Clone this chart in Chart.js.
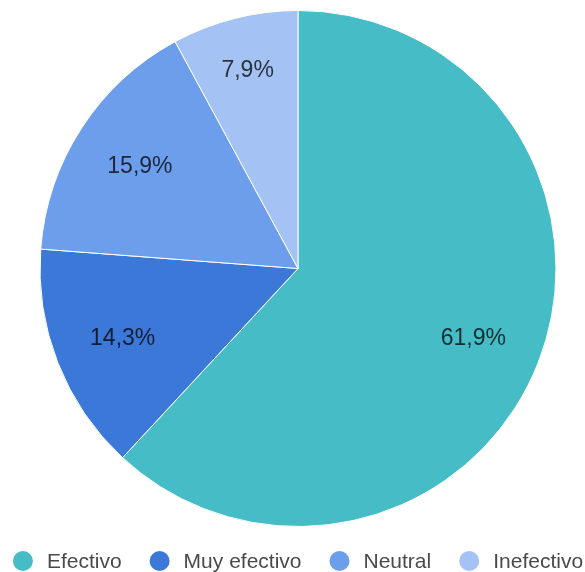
<!DOCTYPE html>
<html>
<head>
<meta charset="utf-8">
<script src="https://cdn.jsdelivr.net/npm/chart.js@4/dist/chart.umd.min.js"></script>
<style>
  html, body { margin: 0; padding: 0; background: #fff; }
  #wrap { width: 585px; height: 572px; }
</style>
</head>
<body>
<div id="wrap"><canvas id="chart"></canvas></div>
<script>
const categories = ["Efectivo", "Muy efectivo", "Neutral", "Inefectivo"];
const shares = [61.9, 14.3, 15.9, 7.9];
const sliceColors = ["#46bdc6", "#3c78d8", "#6d9eeb", "#a4c2f4"];

const FONT = "'Liberation Sans', Arial, sans-serif";

// percentage inside each slice
const sliceLabels = {
  id: "sliceLabels",
  afterDatasetsDraw(chart) {
    const ctx = chart.ctx;
    const meta = chart.getDatasetMeta(0);
    ctx.save();
    ctx.font = "23px " + FONT;
    ctx.fillStyle = "rgba(0,0,0,0.75)";
    ctx.textAlign = "center";
    ctx.textBaseline = "middle";
    meta.data.forEach((arc, i) => {
      const span = arc.endAngle - arc.startAngle;
      const mid = arc.startAngle + span / 2;
      // narrow slices get their label pushed further out
      const r = arc.outerRadius * (span < 0.7 ? 0.795 : 0.73);
      ctx.fillText(shares[i].toFixed(1).replace(".", ",") + "%",
        arc.x + Math.cos(mid) * r, arc.y + Math.sin(mid) * r + 1);
    });
    ctx.restore();
  }
};

// legend row under the pie (built-in one wraps at this spacing)
const bottomLegend = {
  id: "bottomLegend",
  afterDraw(chart) {
    const ctx = chart.ctx;
    const meta = chart.getDatasetMeta(0);
    const dot = 10, textGap = 14, itemGap = 28;
    const y = 561;
    ctx.save();
    ctx.font = "21px " + FONT;
    const widths = categories.map(c => ctx.measureText(c).width);
    const total = widths.reduce((s, w) => s + 2 * dot + textGap + w, 0) + itemGap * (categories.length - 1);
    let x = meta.data[0].x - total / 2;
    categories.forEach((c, i) => {
      ctx.fillStyle = sliceColors[i];
      ctx.beginPath();
      ctx.arc(x + dot, y, dot, 0, Math.PI * 2);
      ctx.fill();
      ctx.fillStyle = "#4a4a4a";
      ctx.textBaseline = "middle";
      ctx.fillText(c, x + 2 * dot + textGap, y + 1);
      x += 2 * dot + textGap + widths[i] + itemGap;
    });
    ctx.restore();
  }
};

new Chart(document.getElementById("chart"), {
  type: "pie",
  data: {
    labels: categories,
    datasets: [{
      data: shares,
      backgroundColor: sliceColors,
      borderColor: "#fff",
      borderWidth: 1
    }]
  },
  options: {
    responsive: true,
    maintainAspectRatio: false,
    animation: false,
    layout: { padding: { top: 10, left: 11, right: 0, bottom: 45 } },
    plugins: {
      tooltip: { enabled: false },
      legend: { display: false }
    }
  },
  plugins: [sliceLabels, bottomLegend]
});
</script>
</body>
</html>
